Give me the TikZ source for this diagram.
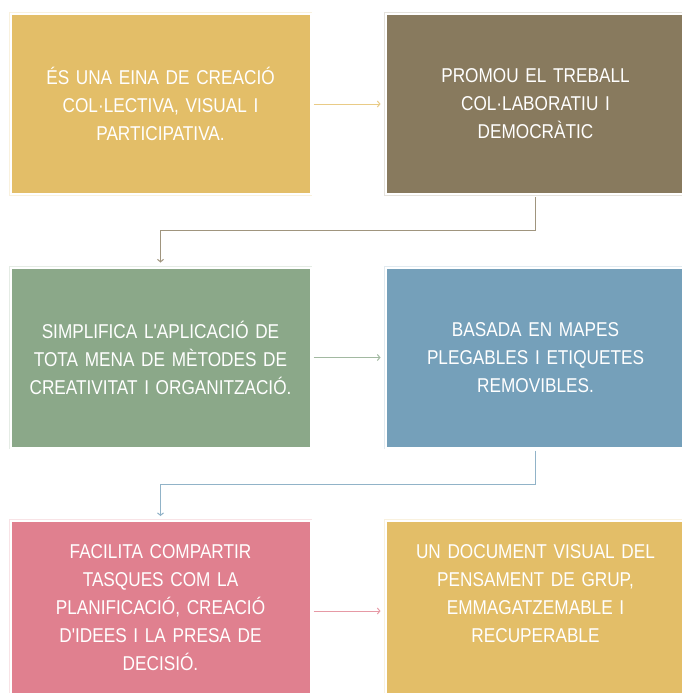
\documentclass[tikz,border=0pt]{standalone}
\usepackage{fontspec}
\newfontfamily\boxfont[FakeStretch=0.86,WordSpace=1.4]{Liberation Sans}
\usetikzlibrary{arrows.meta,positioning,calc}
\definecolor{gold}{HTML}{E3BE68}
\definecolor{umber}{HTML}{887A5E}
\definecolor{sage}{HTML}{8BA889}
\definecolor{steel}{HTML}{75A0BA}
\definecolor{rose}{HTML}{E0808F}
\tikzset{
	box/.style={
			fill=#1, draw=white, line width=2pt,
			preaction={draw=#1!22, line width=3.6pt},
			minimum width=300pt, minimum height=180pt,
			inner sep=0pt, outer sep=0pt
		},
	txt/.style={
			text=white, align=center,
			font=\boxfont\fontsize{20}{28}\selectfont
		},
	link/.style={
			draw=#1!80, line width=1pt,
			-{Straight Barb[length=2.5pt,width=6pt]},
			shorten <=3pt, shorten >=5pt
		}
}

\begin{document}
\begin{tikzpicture}[x=1pt,y=1pt]
			\useasboundingbox (0,0) rectangle (682,-693);
			\clip (0,0) rectangle (682,-693);

			% Boxes, two columns and three rows
			\node[box=gold] (b1) at (160.5,-104) {};
			\node[box=umber, right=75pt of b1] (b2) {};
			\node[box=sage, below=73.5pt of b1] (b3) {};
			\node[box=steel, right=75pt of b3] (b4) {};
			\node[box=rose, below=73.5pt of b3] (b5) {};
			\node[box=gold, right=75pt of b5] (b6) {};

			% Texts
			\node[txt] (t1) at (b1.center) {ÉS UNA EINA DE CREACIÓ\\COL·LECTIVA, VISUAL I\\PARTICIPATIVA.};
			\node[txt] (t2) at (b2.center) {PROMOU EL TREBALL\\COL·LABORATIU I\\DEMOCRÀTIC};
			\node[txt] (t3) at (b3.center) {SIMPLIFICA L'APLICACIÓ DE\\TOTA MENA DE MÈTODES DE\\CREATIVITAT I ORGANITZACIÓ.};
			\node[txt] (t4) at (b4.center) {BASADA EN MAPES\\PLEGABLES I ETIQUETES\\REMOVIBLES.};
			\node[txt] (t5) at ($(b5.center)+(0,3)$) {FACILITA COMPARTIR\\TASQUES COM LA\\PLANIFICACIÓ, CREACIÓ\\D'IDEES I LA PRESA DE\\DECISIÓ.};
			\node[txt, anchor=north] (t6) at (t5.north -| b6) {UN DOCUMENT VISUAL DEL\\PENSAMENT DE GRUP,\\EMMAGATZEMABLE I\\RECUPERABLE};

			% Elbow points between the rows
			\coordinate (k1) at ($(b2.south)!0.5!(b4.north)$);
			\coordinate (k2) at ($(b4.south)!0.5!(b6.north)$);

			% Connectors
			\draw[link=gold] (b1) -- (b2);
			\draw[link=umber] (b2.south) -- (k1) -| (b3.north);
			\draw[link=sage] (b3) -- (b4);
			\draw[link=steel] (b4.south) -- (k2) -| (b5.north);
			\draw[link=rose] (b5) -- (b6);
		\end{tikzpicture}
\end{document}
